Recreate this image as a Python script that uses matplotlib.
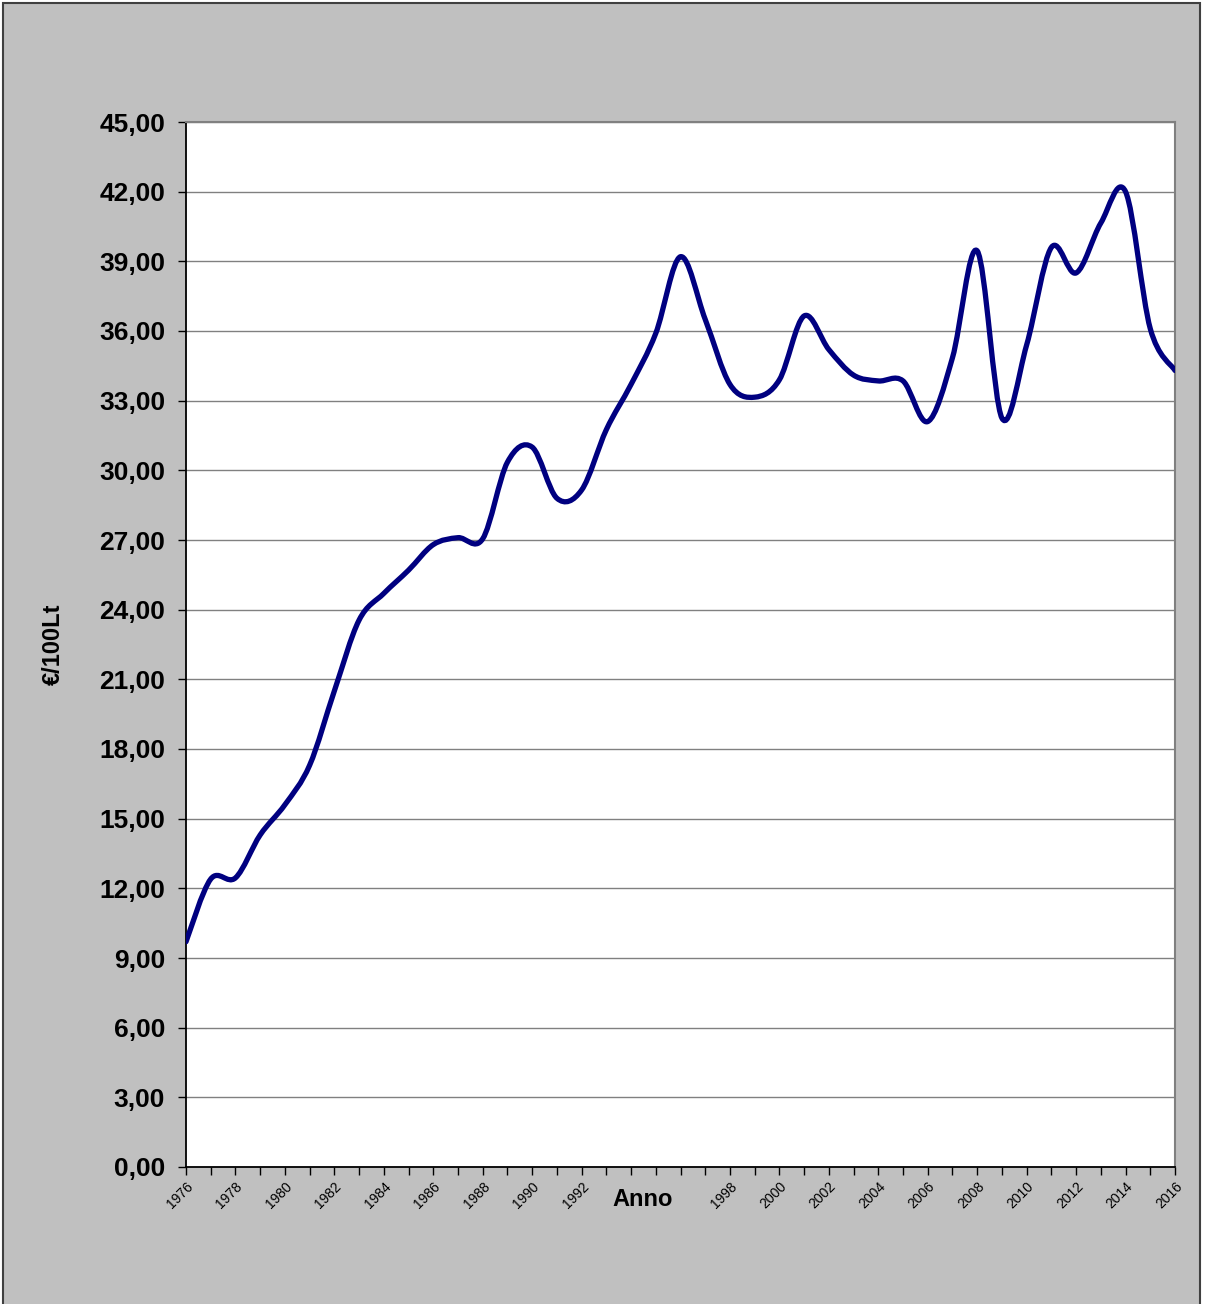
import numpy as np
import matplotlib.pyplot as plt
from matplotlib.path import Path
from matplotlib.patches import PathPatch, Rectangle

plt.rcParams['font.family'] = ['Liberation Sans', 'DejaVu Sans']

# yearly values (€/100Lt)
years = list(range(1976, 2017))
prices = [9.70, 12.40, 12.45, 14.30, 15.60, 17.30, 20.50, 23.55, 24.70, 25.70,
          26.80, 27.10, 27.05, 30.35, 31.00, 28.80, 29.15, 31.75, 33.70, 35.90,
          39.20, 36.50, 33.70, 33.15, 33.90, 36.65, 35.20, 34.10, 33.85, 33.85,
          32.10, 34.85, 39.45, 32.25, 35.40, 39.60, 38.50, 40.65, 42.00, 36.10,
          34.30]

label_years = list(range(1976, 2017, 2))
# 1994 and 1996 are covered by the axis title in the original
x_labels = ["" if y in (1994, 1996) else str(y) for y in label_years]
y_ticks = list(range(0, 46, 3))
y_labels = [f"{v},00" for v in y_ticks]


def smooth_path(xs, ys):
    # Excel-like smoothed line: cubic Bezier between each pair of points
    pts = np.column_stack([xs, ys]).astype(float)
    n = len(pts)
    verts = [pts[0]]
    codes = [Path.MOVETO]
    for i in range(n - 1):
        p0 = pts[i - 1] if i > 0 else pts[i]
        p1 = pts[i]
        p2 = pts[i + 1]
        p3 = pts[i + 2] if i + 2 < n else pts[i + 1]
        c1 = p1 + (p2 - p0) / 6.0
        c2 = p2 - (p3 - p1) / 6.0
        verts += [c1, c2, p2]
        codes += [Path.CURVE4] * 3
    return Path(verts, codes)


fig = plt.figure(figsize=(12.09, 13.04), dpi=100, facecolor='white')
fig.patches.append(Rectangle((3 / 1209, -0.01), 1197 / 1209, 1 - 3 / 1304 + 0.01,
                             transform=fig.transFigure, facecolor='#C0C0C0',
                             edgecolor='#404040', linewidth=1.5, zorder=-10))

ax = fig.add_axes([186 / 1209, 137 / 1304, 989 / 1209, 1045 / 1304])
ax.set_facecolor('white')

ax.add_patch(PathPatch(smooth_path(years, prices), facecolor='none',
                       edgecolor='#000080', linewidth=3.8, capstyle='round',
                       joinstyle='round', zorder=3))

ax.set_xlim(1976, 2016)
ax.set_ylim(0, 45)

ax.set_yticks(y_ticks)
ax.set_yticklabels(y_labels, fontsize=19, fontweight='bold')
ax.set_xticks(years, minor=True)
ax.set_xticks(label_years)
ax.set_xticklabels(x_labels, fontsize=10, rotation=45, ha='right',
                   rotation_mode='anchor')

ax.tick_params(axis='both', which='both', direction='out', length=6,
               width=1, color='black')
ax.tick_params(axis='y', pad=9)
ax.tick_params(axis='x', which='major', pad=3)

ax.grid(axis='y', color='#808080', linewidth=1)
ax.set_axisbelow(True)

for side in ['left', 'bottom']:
    ax.spines[side].set_color('black')
    ax.spines[side].set_linewidth(1.3)
for side in ['top', 'right']:
    ax.spines[side].set_color('#808080')
    ax.spines[side].set_linewidth(1.5)

ax.set_xlabel("Anno", fontsize=17, fontweight='bold')
ax.xaxis.set_label_coords(0.462, -0.0205)
ax.set_ylabel("€/100Lt", fontsize=17, fontweight='bold')
ax.yaxis.set_label_coords(-0.122, 0.5)

fig.savefig("out.png", dpi=100, facecolor=fig.get_facecolor())
